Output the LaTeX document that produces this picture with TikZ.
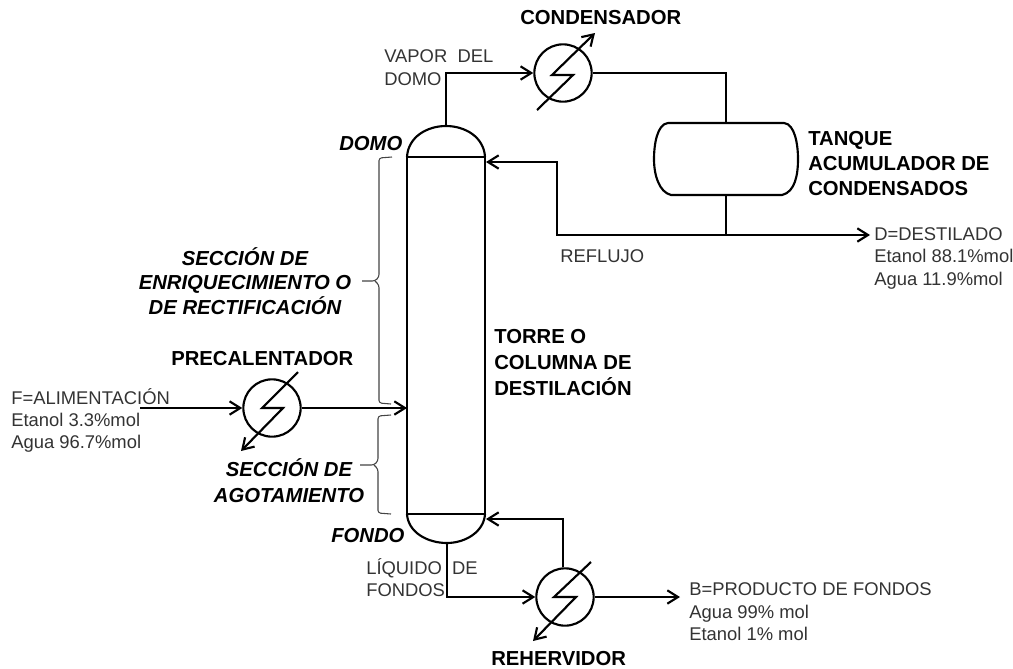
\documentclass[tikz,border=0pt]{standalone}
\usepackage{fontspec}
\setmainfont{Liberation Sans}
\usetikzlibrary{arrows.meta}
\definecolor{txt}{HTML}{333333}
\definecolor{brc}{HTML}{444444}
\tikzset{
  line/.style={line width=1.6pt,draw=black},
  flow/.style={line,-{Straight Barb[length=8pt,width=10pt,line width=1.6pt]}},
  hx/.style={circle,draw=black,line width=1.6pt,minimum size=43pt,inner sep=0pt},
  brace/.style={draw=brc,line width=.8pt,rounded corners=2pt},
  plain/.style={anchor=base west,inner sep=0pt,font=\fontsize{13.8pt}{16.5pt}\selectfont,text=txt,align=left},
  head/.style={anchor=base west,inner sep=0pt,font=\fontsize{15.2pt}{19pt}\selectfont\bfseries,text=black,align=left},
  sect/.style={anchor=base west,inner sep=0pt,font=\fontsize{15.2pt}{19pt}\selectfont\bfseries\itshape,text=black,align=left},
  secc/.style={sect,anchor=base,align=center},
}
\begin{document}
\begin{tikzpicture}[x=0.75pt,y=-0.75pt]
\useasboundingbox (0,0) rectangle (1013,668);
% column
\coordinate (cNW) at (407,157); \coordinate (cNE) at (485,157);
\coordinate (cSW) at (407,514); \coordinate (cSE) at (485,514);
\coordinate (domeTop) at (446,126); \coordinate (botBot) at (447,543);
\draw[line] (cNW) -- (cSW) (cNE) -- (cSE) (cNW) -- (cNE) (cSW) -- (cSE);
\draw[line] (cNW) .. controls (408,137) and (427,126) .. (domeTop) .. controls (465,126) and (484,137) .. (cNE);
\draw[line] (cSW) .. controls (408,532) and (427,543) .. (botBot) .. controls (465,543) and (484,532) .. (cSE);
% exchangers
\node[hx] (cond) at (563,73) {};
\node[hx] (prec) at (272,408) {};
\node[hx] (rehe) at (565,597) {};
\draw[flow] (537,110) -- (573,75) -- (552,75) -- (595,33);
\draw[flow] (298,372) -- (262,408) -- (283,408) -- (241,451);
\draw[flow] (591,562) -- (554,597) -- (576,597) -- (533,641);
% tank
\coordinate (tankT) at (726,123); \coordinate (tankB) at (726,195);
\draw[line] (668,123) -- (784,123) .. controls (795,124) and (798,145) .. (798,159)
  .. controls (798,175) and (795,192) .. (782,195) -- (671,195)
  .. controls (659,192) and (654,175) .. (654,159) .. controls (654,145) and (657,124) .. (668,123);
% connectors
\coordinate (vapC) at (446,73);
\draw[flow] (domeTop) -- (vapC) -- (cond.west);
\coordinate (c1) at (726,73);
\draw[line] (cond.east) -- (c1) -- (tankT);
\coordinate (j) at (726,235); \coordinate (dEnd) at (870,235);
\draw[line] (tankB) -- (j);
\draw[flow] (j) -- (dEnd);
\coordinate (r1) at (557,235); \coordinate (r2) at (557,162); \coordinate (r3) at (486,162);
\draw[flow] (j) -- (r1) -- (r2) -- (r3);
\coordinate (fStart) at (140,408); \coordinate (fEnd) at (407,408);
\draw[flow] (fStart) -- (prec.west);
\draw[flow] (prec.east) -- (fEnd);
\coordinate (b1) at (447,597);
\draw[flow] (botBot) -- (b1) -- (rehe.west);
\coordinate (t1) at (563,519); \coordinate (t2) at (486,519);
\draw[flow] (rehe.north -| t1) -- (t1) -- (t2);
\coordinate (bEnd) at (680,597);
\draw[flow] (rehe.east) -- (bEnd);
% braces
\draw[brace] (392,157) -- (379,158) -- (379,277) -- (375,281) -- (362,281);
\draw[brace] (375,281) -- (379,285) -- (379,403) -- (391,404);
\draw[brace] (391,415) -- (378,416) -- (378,461) -- (374,465) -- (360,465);
\draw[brace] (374,465) -- (378,469) -- (378,513) -- (391,514);
% labels
\node[head] (lcond) at (520,24) {CONDENSADOR};
\node[plain] (lvap) at (384,62) {VAPOR\ \ DEL};
\node[plain] (ldom) at (384,85) {DOMO};
\node[sect] (ldomo) at (339,150) {DOMO};
\node[head] (ltank) at (808,145) {TANQUE};
\node[head] (ltank2) at (808,170) {ACUMULADOR DE};
\node[head] (ltank3) at (808,195) {CONDENSADOS};
\node[plain] (ld1) at (874,240) {D=DESTILADO};
\node[plain] (ld2) at (874,262) {Etanol 88.1\%mol};
\node[plain] (ld3) at (874,285) {Agua 11.9\%mol};
\node[plain] (lref) at (560,262) {REFLUJO};
\node[secc] (ls1) at (245,265) {SECCIÓN DE};
\node[secc] (ls2) at (245,289) {ENRIQUECIMIENTO O};
\node[secc] (ls3) at (245,314) {DE RECTIFICACIÓN};
\node[head] (lt1) at (494,343) {TORRE O};
\node[head] (lt2) at (494,369) {COLUMNA DE};
\node[head] (lt3) at (494,395) {DESTILACIÓN};
\node[head] (lpre) at (171,365) {PRECALENTADOR};
\node[plain] (lf1) at (11,404) {F=ALIMENTACIÓN};
\node[plain] (lf2) at (11,426) {Etanol 3.3\%mol};
\node[plain] (lf3) at (11,448) {Agua 96.7\%mol};
\node[secc] (la1) at (289,476) {SECCIÓN DE};
\node[secc] (la2) at (289,502) {AGOTAMIENTO};
\node[sect] (lfon) at (331,542) {FONDO};
\node[plain] (ll1) at (366,574) {LÍQUIDO\ \ DE};
\node[plain] (ll2) at (366,596) {FONDOS};
\node[plain] (lb1) at (689,595) {B=PRODUCTO DE FONDOS};
\node[plain] (lb2) at (689,618) {Agua 99\% mol};
\node[plain] (lb3) at (689,640) {Etanol 1\% mol};
\node[head] (lreh) at (491,665) {REHERVIDOR};
\end{tikzpicture}
\end{document}
